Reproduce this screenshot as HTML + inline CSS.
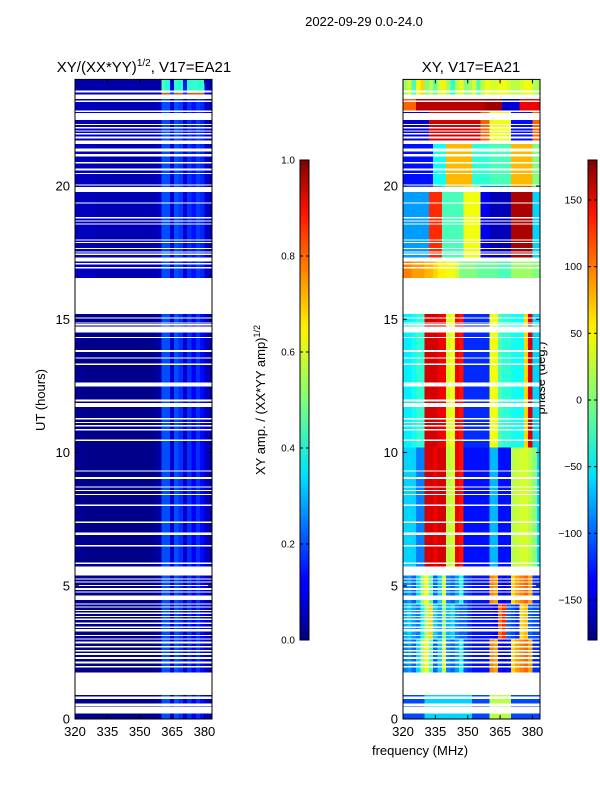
<!DOCTYPE html>
<html><head><meta charset="utf-8"><style>
body{margin:0;background:#fff;}
svg{font-family:"Liberation Sans",sans-serif;}
</style></head><body>
<svg id="fig" width="600" height="800" viewBox="0 0 600 800" xmlns="http://www.w3.org/2000/svg">
<defs>
<linearGradient id="jetv" x1="0" y1="1" x2="0" y2="0">
<stop offset="0" stop-color="#00007f"/><stop offset="0.11" stop-color="#0000ff"/><stop offset="0.125" stop-color="#0000ff"/>
<stop offset="0.34" stop-color="#00dfff"/><stop offset="0.35" stop-color="#00e5f8"/><stop offset="0.5" stop-color="#7dff7a"/>
<stop offset="0.64" stop-color="#f8f500"/><stop offset="0.66" stop-color="#ffea00"/><stop offset="0.89" stop-color="#ff1300"/>
<stop offset="1" stop-color="#7f0000"/></linearGradient>
</defs>
<text x="364" y="26" font-size="13" text-anchor="middle">2022-09-29 0.0-24.0</text>
<text x="144" y="72" font-size="15" text-anchor="middle">XY/(XX*YY)<tspan font-size="10" dy="-6">1/2</tspan><tspan dy="6">, V17=EA21</tspan></text>
<text x="471" y="72" font-size="15" text-anchor="middle">XY, V17=EA21</text>
<text transform="translate(45,400) rotate(-90)" font-size="13" text-anchor="middle">UT (hours)</text>
<text transform="translate(265,400) rotate(-90)" font-size="13" text-anchor="middle">XY amp. / (XX*YY amp)<tspan font-size="9" dy="-5">1/2</tspan></text>
<text transform="translate(545,378) rotate(-90)" font-size="13" text-anchor="middle">phase (deg.)</text>
<text x="420" y="755" font-size="13" text-anchor="middle">frequency (MHz)</text>
<g id="leftHeat" shape-rendering="crispEdges"></g>
<g id="rightHeat" shape-rendering="crispEdges"></g>
<g id="axes"></g>
<rect x="300" y="160" width="9" height="480" fill="url(#jetv)" stroke="#000" stroke-width="1"/>
<rect x="588" y="160" width="9" height="480" fill="url(#jetv)" stroke="#000" stroke-width="1"/>
<g id="cbars"></g>
</svg>
<script>
const freqStart = 320, chanWidth = 2;
const xTicks = [320,335,350,365,380];
const yTicks = [0,5,10,15,20];
const ampTicks = [0.0,0.2,0.4,0.6,0.8,1.0];
const phaseTicks = [-150,-100,-50,0,50,100,150];
const ampProfiles = {
 base:[0.02,0.02,0.01,0.01,0.01,0.01,0.01,0.01,0.01,0.01,0.01,0.01,0.01,0.01,0.01,0.01,0.01,0.01,0.02,0.04,0.2,0.2,0.08,0.2,0.17,0.07,0.17,0.12,0.17,0.13,0.06,0.03],
 upper:[0.06,0.06,0.06,0.06,0.06,0.05,0.05,0.05,0.05,0.05,0.05,0.05,0.05,0.05,0.05,0.05,0.05,0.05,0.05,0.07,0.2,0.2,0.09,0.2,0.18,0.08,0.17,0.14,0.18,0.16,0.07,0.05],
 top:[0.04,0.04,0.04,0.04,0.04,0.04,0.04,0.04,0.04,0.04,0.04,0.04,0.04,0.04,0.04,0.04,0.04,0.04,0.04,0.04,0.45,0.4,0.12,0.42,0.42,0.15,0.42,0.42,0.42,0.42,0.08,0.05],
 topRed:[0.04,0.04,0.04,0.04,0.04,0.04,0.04,0.04,0.04,0.04,0.04,0.04,0.04,0.04,0.04,0.04,0.04,0.04,0.04,0.04,0.8,0.8,0.2,0.8,0.8,0.2,0.8,0.8,0.8,0.8,0.1,0.05]
};
const phaseProfiles = {
 bottom:[-110,-110,-110,-110,-110,-60,-60,-60,-60,-60,-60,-60,-60,-60,-60,-60,-110,-110,-110,-110,20,20,20,20,20,-110,-110,-110,-110,-110,-110,-110],
 lowA:[-90,-80,-100,-60,10,40,-20,-100,-60,30,-90,-100,-80,-40,-110,-120,-130,-130,-130,-130,90,80,-130,-140,-130,60,80,90,100,80,-120,-120],
 lowB:[-70,-60,-80,-90,-40,20,60,-60,-80,0,-70,-60,-90,-100,-100,-120,-130,-130,-130,-130,-130,-140,100,120,-100,-110,-120,60,70,-100,-110,-110],
 p610:[-60,-60,-60,-90,-90,150,150,140,150,150,20,30,140,130,-130,-130,-130,-130,-130,-130,-70,-70,-130,-130,-130,20,25,30,30,20,0,-60],
 p1015:[-50,-50,-40,-30,-30,150,150,150,140,140,30,40,140,130,-120,-120,-120,-120,-120,-120,40,40,-20,-30,-30,-40,-40,-40,60,150,-60,-60],
 p17:[90,90,80,80,80,70,70,60,50,50,40,40,30,0,0,0,0,-10,-10,-10,-10,-10,-20,-20,-20,10,10,10,10,10,0,0],
 pUpper:[-80,-80,-80,-80,-80,-80,120,120,120,-20,-20,-20,-20,-20,40,40,40,40,-140,-140,-160,-160,-160,-160,-160,165,165,165,165,165,-60,-60],
 p2021:[-130,-130,-130,-130,-130,-130,-130,-40,-40,-40,70,70,70,70,70,70,-30,-30,-30,-30,-20,-20,-20,-20,-20,70,70,70,70,70,0,0],
 p2122:[-150,-150,-150,-150,-150,-150,150,150,150,150,150,150,150,150,150,150,150,150,100,100,40,40,40,40,40,-130,-130,-130,-130,-130,100,100],
 p23:[100,100,100,160,160,160,160,160,160,160,160,160,160,160,160,160,160,160,160,170,170,170,170,-150,-150,-150,-150,140,140,140,140,140],
 p24:[10,30,-20,40,60,0,20,-10,30,50,10,-30,20,40,0,10,30,-20,20,40,30,30,40,40,30,20,20,30,40,40,20,10]
};
const segStart = [0,1.74,3.0,4.3,5.72,10.2,16.55,17.25,20.0,21.7,22.8,23.3,23.5];
const segEnd   = [0.9,3.0,4.3,5.72,10.2,15.2,17.25,20.0,21.7,22.8,23.3,23.5,24];
const segAmp   = ['base','base','base','base','base','base','upper','upper','upper','upper','upper','topRed','top'];
const segPhase = ['bottom','lowA','lowB','lowA','p610','p1015','p17','pUpper','p2021','p2122','p23','p24','p24'];
const gapStart = [0.21,0.49,0.75,0.9,1.94,2.09,2.25,2.41,2.54,2.69,2.84,2.99,3.12,3.28,3.42,3.57,3.72,3.83,3.94,4.06,4.18,4.29,4.47,4.74,4.84,4.99,5.12,5.25,5.38,5.82,6.47,6.91,7.35,8.0,8.4,8.56,8.69,9.0,9.28,10.44,10.83,10.98,11.1,11.23,11.7,11.92,12.48,13.29,13.52,13.77,14.29,14.51,14.77,14.84,15.02,15.2,16.9,17.05,17.17,17.42,17.51,17.64,17.86,17.96,18.56,18.66,18.78,19.35,19.78,20.02,20.45,20.59,20.84,21.11,21.3,21.58,21.78,21.93,22.05,22.15,22.28,22.47,22.78,23.15,23.27,23.5];
const gapEnd   = [0.46,0.59,0.84,1.74,1.99,2.15,2.32,2.47,2.59,2.74,2.9,3.03,3.15,3.37,3.47,3.62,3.78,3.87,3.99,4.09,4.22,4.34,4.63,4.78,4.91,5.03,5.16,5.28,5.72,5.87,6.52,7.0,7.41,8.05,8.44,8.6,8.72,9.08,9.32,10.48,10.89,11.04,11.14,11.29,11.85,11.98,12.63,13.34,13.57,13.84,14.34,14.73,14.82,14.88,15.06,16.55,16.97,17.11,17.32,17.46,17.55,17.67,17.9,18.0,18.6,18.7,18.83,19.39,19.97,20.05,20.49,20.65,20.9,21.2,21.4,21.7,21.85,21.98,22.09,22.22,22.33,22.74,22.84,23.2,23.43,23.58];

const NS='http://www.w3.org/2000/svg';
const panels=[{x0:75,x1:212,g:'leftHeat',type:'amp'},{x0:403,x1:540,g:'rightHeat',type:'phase'}];
const yTop=79.4, yBot=719;
const fMin=320, fMax=383.5;
function yScale(h){return yBot-(h/24)*(yBot-yTop);}
function xScale(p,f){return p.x0+(f-fMin)/(fMax-fMin)*(p.x1-p.x0);}
function jet(v){v=Math.max(0,Math.min(1,v));
 const r=Math.max(0,Math.min(1,Math.min(4*v-1.5,-4*v+4.5)));
 const g=Math.max(0,Math.min(1,Math.min(4*v-0.5,-4*v+3.5)));
 const b=Math.max(0,Math.min(1,Math.min(4*v+0.5,-4*v+2.5)));
 return 'rgb('+Math.round(r*255)+','+Math.round(g*255)+','+Math.round(b*255)+')';}
function mk(tag,attrs,parent){const e=document.createElementNS(NS,tag);for(const k in attrs)e.setAttribute(k,attrs[k]);parent.appendChild(e);return e;}

panels.forEach(p=>{
 const g=document.getElementById(p.g);
 for(let s=0;s<segStart.length;s++){
  const prof = p.type==='amp'? ampProfiles[segAmp[s]] : phaseProfiles[segPhase[s]];
  const ya=yScale(segEnd[s]), yb=yScale(segStart[s]);
  for(let c=0;c<prof.length;c++){
   const f0=freqStart+c*chanWidth, f1=Math.min(f0+chanWidth,fMax);
   if(f0>=fMax)continue;
   const v = p.type==='amp'? prof[c] : (prof[c]+180)/360;
   const r=mk('rect',{x:xScale(p,f0).toFixed(2),y:ya.toFixed(2),width:(xScale(p,f1)-xScale(p,f0)+0.4).toFixed(2),height:(yb-ya+0.3).toFixed(2),fill:jet(v)},g);
   
   
  }
 }
 for(let i=0;i<gapStart.length;i++){
  const ya=yScale(gapEnd[i]), yb=yScale(gapStart[i]);
  const r=mk('rect',{x:p.x0,y:ya.toFixed(2),width:p.x1-p.x0,height:Math.max(1,yb-ya).toFixed(2),fill:'#fff'},g);
  
  
 }
 const ax=document.getElementById('axes');
 const fr=mk('rect',{x:p.x0,y:yTop,width:p.x1-p.x0,height:yBot-yTop,fill:'none',stroke:'#000','stroke-width':1},ax);
 
 
 yTicks.forEach(t=>{const y=yScale(t);
  mk('line',{x1:p.x0,x2:p.x0+4,y1:y,y2:y,stroke:'#000'},ax);
  mk('line',{x1:p.x1,x2:p.x1-4,y1:y,y2:y,stroke:'#000'},ax);
  const tx=mk('text',{x:p.x0-5,y:y+4.5,'font-size':13,'text-anchor':'end'},ax);tx.textContent=t;
  
  
 });
 xTicks.forEach(t=>{const x=xScale(p,t);
  mk('line',{x1:x,x2:x,y1:yBot,y2:yBot-4,stroke:'#000'},ax);
  mk('line',{x1:x,x2:x,y1:yTop,y2:yTop+4,stroke:'#000'},ax);
  const tx=mk('text',{x:x,y:736,'font-size':13,'text-anchor':'middle'},ax);tx.textContent=t;
  
  
 });
});
const cb=document.getElementById('cbars');
ampTicks.forEach(t=>{const y=640-t*480;
 mk('line',{x1:300,x2:303,y1:y,y2:y,stroke:'#000'},cb);mk('line',{x1:309,x2:306,y1:y,y2:y,stroke:'#000'},cb);
 const tx=mk('text',{x:295,y:y+3.5,'font-size':10,'text-anchor':'end'},cb);tx.textContent=t.toFixed(1);
 
 
});
phaseTicks.forEach(t=>{const y=640-(t+180)/360*480;
 mk('line',{x1:588,x2:591,y1:y,y2:y,stroke:'#000'},cb);mk('line',{x1:597,x2:594,y1:y,y2:y,stroke:'#000'},cb);
 const tx=mk('text',{x:582,y:y+3.5,'font-size':10.5,'text-anchor':'end'},cb);tx.textContent=(t<0?'\u2212'+(-t):t);
 
 
});
</script>
</body></html>
